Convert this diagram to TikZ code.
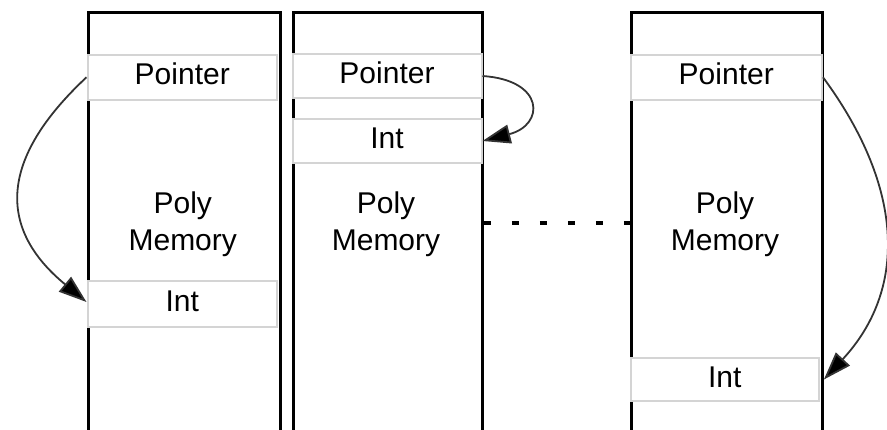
\documentclass[tikz,border=0pt]{standalone}
\usepackage{fontspec}
\setmainfont{Liberation Sans}
\usetikzlibrary{arrows.meta}
\begin{document}
\begin{tikzpicture}[x=1pt,y=-1pt,
  memcol/.style={draw=black, line width=3.4pt, inner sep=0pt, minimum height=440pt, anchor=north west},
  cellbox/.style={draw=black!17, fill=white, line width=2pt, inner sep=0pt, anchor=north west,
    font=\fontsize{30}{36}\selectfont, text height=21pt, text depth=6pt, text=black},
  polytext/.style={align=center, inner sep=0pt, font=\fontsize{30}{37}\selectfont, text=black},
  ptrarrow/.style={draw=black!80, line width=1.8pt, -{Triangle[length=28pt,width=19pt,fill=black]}},
  gapline/.style={draw=black, line width=4pt, dash pattern=on 7pt off 21pt}
]
\useasboundingbox (0,0) rectangle (887,429);

% memory columns (open at the bottom)
\node[memcol, minimum width=192.5pt] (col1) at (86.5,10.7) {};
\node[memcol, minimum width=189pt]   (col2) at (291.5,10.7) {};
\node[memcol, minimum width=191pt]   (col3) at (629.5,10.7) {};

% cells inside the columns
\node[cellbox, minimum width=189.5pt, minimum height=45.5pt] (p1) at (86.5,53.5) {Pointer};
\node[cellbox, minimum width=189.5pt, minimum height=46pt]   (i1) at (86.5,280) {Int};
\node[cellbox, minimum width=189pt,   minimum height=44pt]   (p2) at (291.5,53) {Pointer};
\node[cellbox, minimum width=189pt,   minimum height=44pt]   (i2) at (291.5,118) {Int};
\node[cellbox, minimum width=191.5pt, minimum height=45.5pt] (p3) at (629.5,53.5) {Pointer};
\node[cellbox, minimum width=188.5pt, minimum height=43pt]   (i3) at (629.5,357) {Int};

% column captions
\node[polytext] (m1) at (182.75,224) {Poly\\Memory};
\node[polytext] (m2) at (386,224) {Poly\\Memory};
\node[polytext] (m3) at (725,224) {Poly\\Memory};

% gap between the second and third column
\draw[gapline] ([yshift=9pt]col2.east) -- ([yshift=9pt]col3.west);

% pointers to their ints
\draw[ptrarrow] (p1.west) .. controls (-2,160) and (-2,229) .. ([yshift=2pt]i1.west);
\draw[ptrarrow] (p2.east) .. controls (545,80) and (545,125) .. (i2.east);
\draw[ptrarrow] (p3.east) .. controls (906,190) and (906,291) .. (i3.east -| col3.east);
\end{tikzpicture}
\end{document}
